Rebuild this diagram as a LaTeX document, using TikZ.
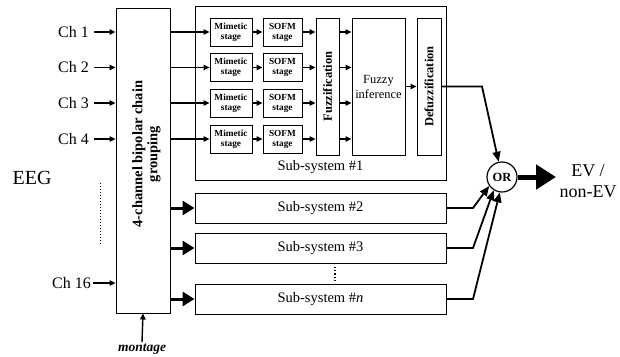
\documentclass[tikz,border=0pt]{standalone}
\usepackage{fontspec}
\setmainfont{Liberation Serif}
\usetikzlibrary{arrows.meta}
\newcommand{\myfs}[2]{\fontsize{#1}{#2}\selectfont}
\begin{document}
\begin{tikzpicture}[x=1pt,y=-1pt,
  box/.style={draw, line width=1pt, inner sep=0pt, align=center},
  stagebox/.style={box, minimum width=#1, minimum height=28pt, font=\myfs{9.3}{10}\bfseries},
  tallbox/.style={box, minimum width=#1, minimum height=137pt},
  subbox/.style={box, minimum width=251pt, minimum height=30pt, font=\myfs{14.5}{16}},
  arr/.style={line width=1.2pt, -{Triangle[length=6pt,width=5.5pt]}},
  charr/.style={line width=1.4pt, -{Triangle[length=6pt,width=5.5pt]}},
  orarr/.style={line width=1.8pt, -{Triangle[length=10pt,width=8pt]}},
  bigarr/.style={line width=3pt, -{Triangle[length=12pt,width=14pt]}},
  outarr/.style={line width=5pt, -{Triangle[length=20pt,width=24pt]}},
  chlab/.style={anchor=east, inner sep=0pt, font=\myfs{16}{18}}
]
\useasboundingbox (0,0) rectangle (620,356);

% grouping box
\node[box, minimum width=54pt, minimum height=305pt] (grp) at (143,160.5) {};
\node[rotate=90, align=center, font=\myfs{14.5}{15}\bfseries] at (146.5,154) {4-channel bipolar chain\\grouping};

% channel labels
\node[chlab] (c1) at (89,32) {Ch 1};
\node[chlab] (c2) at (89,67.5) {Ch 2};
\node[chlab] (c3) at (89,103) {Ch 3};
\node[chlab] (c4) at (89,139) {Ch 4};
\node[chlab] (c16) at (91,283) {Ch 16};
\foreach \c in {c1,c2,c3,c4}{
  \draw[charr] ([xshift=5pt]\c.east) -- (\c.east -| grp.west);
}
\draw[charr] ([xshift=2pt]c16.east) -- (c16.east -| grp.west);
\draw[line width=1pt, dotted] (100,183) -- (100,244);
\node[font=\myfs{20}{22}] (eeg) at (32,178) {EEG};

% montage
\node[font=\myfs{13.5}{15}\bfseries\itshape] (mont) at (142,349) {montage};
\draw[charr] ([yshift=-2pt]mont.north) -- (grp.south);

% sub-system 1
\node[box, minimum width=251pt, minimum height=174pt] (ss1) at (320.5,93) {};
\node[font=\myfs{14.5}{16}] (ss1lab) at (320.5,167) {Sub-system \#1};

\foreach \i/\y in {1/32,2/67.5,3/103,4/139}{
  \node[stagebox=42pt] (m\i) at (231,\y) {Mimetic\\stage};
  \node[stagebox=39pt] (s\i) at (282.5,\y) {SOFM\\stage};
}
\node[tallbox=23pt] (fuzz) at (327.5,86.5) {};
\node[rotate=90, font=\myfs{12.5}{14}\bfseries] at (fuzz) {Fuzzification};
\node[tallbox=53pt, font=\myfs{12.5}{15}] (inf) at (378.5,86.5) {Fuzzy\\inference};
\node[tallbox=24pt] (defz) at (429,86.5) {};
\node[rotate=90, font=\myfs{12.5}{14}\bfseries] at (defz) {Defuzzification};

\foreach \i in {1,2,3,4}{
  \draw[arr] (m\i.west -| grp.east) -- (m\i.west);
  \draw[arr] (m\i.east) -- (s\i.west);
  \draw[arr] (s\i.east) -- (s\i.east -| fuzz.west);
  \draw[arr] (s\i.east -| fuzz.east) -- (s\i.east -| inf.west);
}
\draw[arr] (inf.east) -- (defz.west);

% other sub-systems
\node[subbox] (ss2) at (320.5,208) {Sub-system \#2};
\node[subbox] (ss3) at (320.5,248) {Sub-system \#3};
\node[subbox] (ssn) at (320.5,299) {Sub-system \#\textit{n}};
\draw[line width=1.2pt, dotted] (335,267) -- (335,281);
\foreach \s in {ss2,ss3,ssn}{
  \draw[bigarr] (\s.west -| grp.east) -- (\s.west);
}

% OR
\node[draw, circle, line width=1.2pt, minimum size=30pt, inner sep=0pt, font=\myfs{12.5}{14}\bfseries] (or) at (502,177) {OR};
\coordinate (d1) at (482,86.5);
\draw[orarr] (defz.east) -- (d1) -- (or);
\coordinate (k2) at (473,208);
\coordinate (k3) at (473,248);
\coordinate (kn) at (473,299);
\draw[orarr] (ss2.east) -- (k2) -- (or.215);
\draw[orarr] (ss3.east) -- (k3) -- (or.238);
\draw[orarr] (ssn.east) -- (kn) -- (or.262);

\coordinate (outend) at (556,177);
\draw[outarr] (or.east) -- (outend);
\node[align=center, font=\myfs{18}{21}] (ev) at (588,181) {EV /\\non-EV};
\end{tikzpicture}
\end{document}
